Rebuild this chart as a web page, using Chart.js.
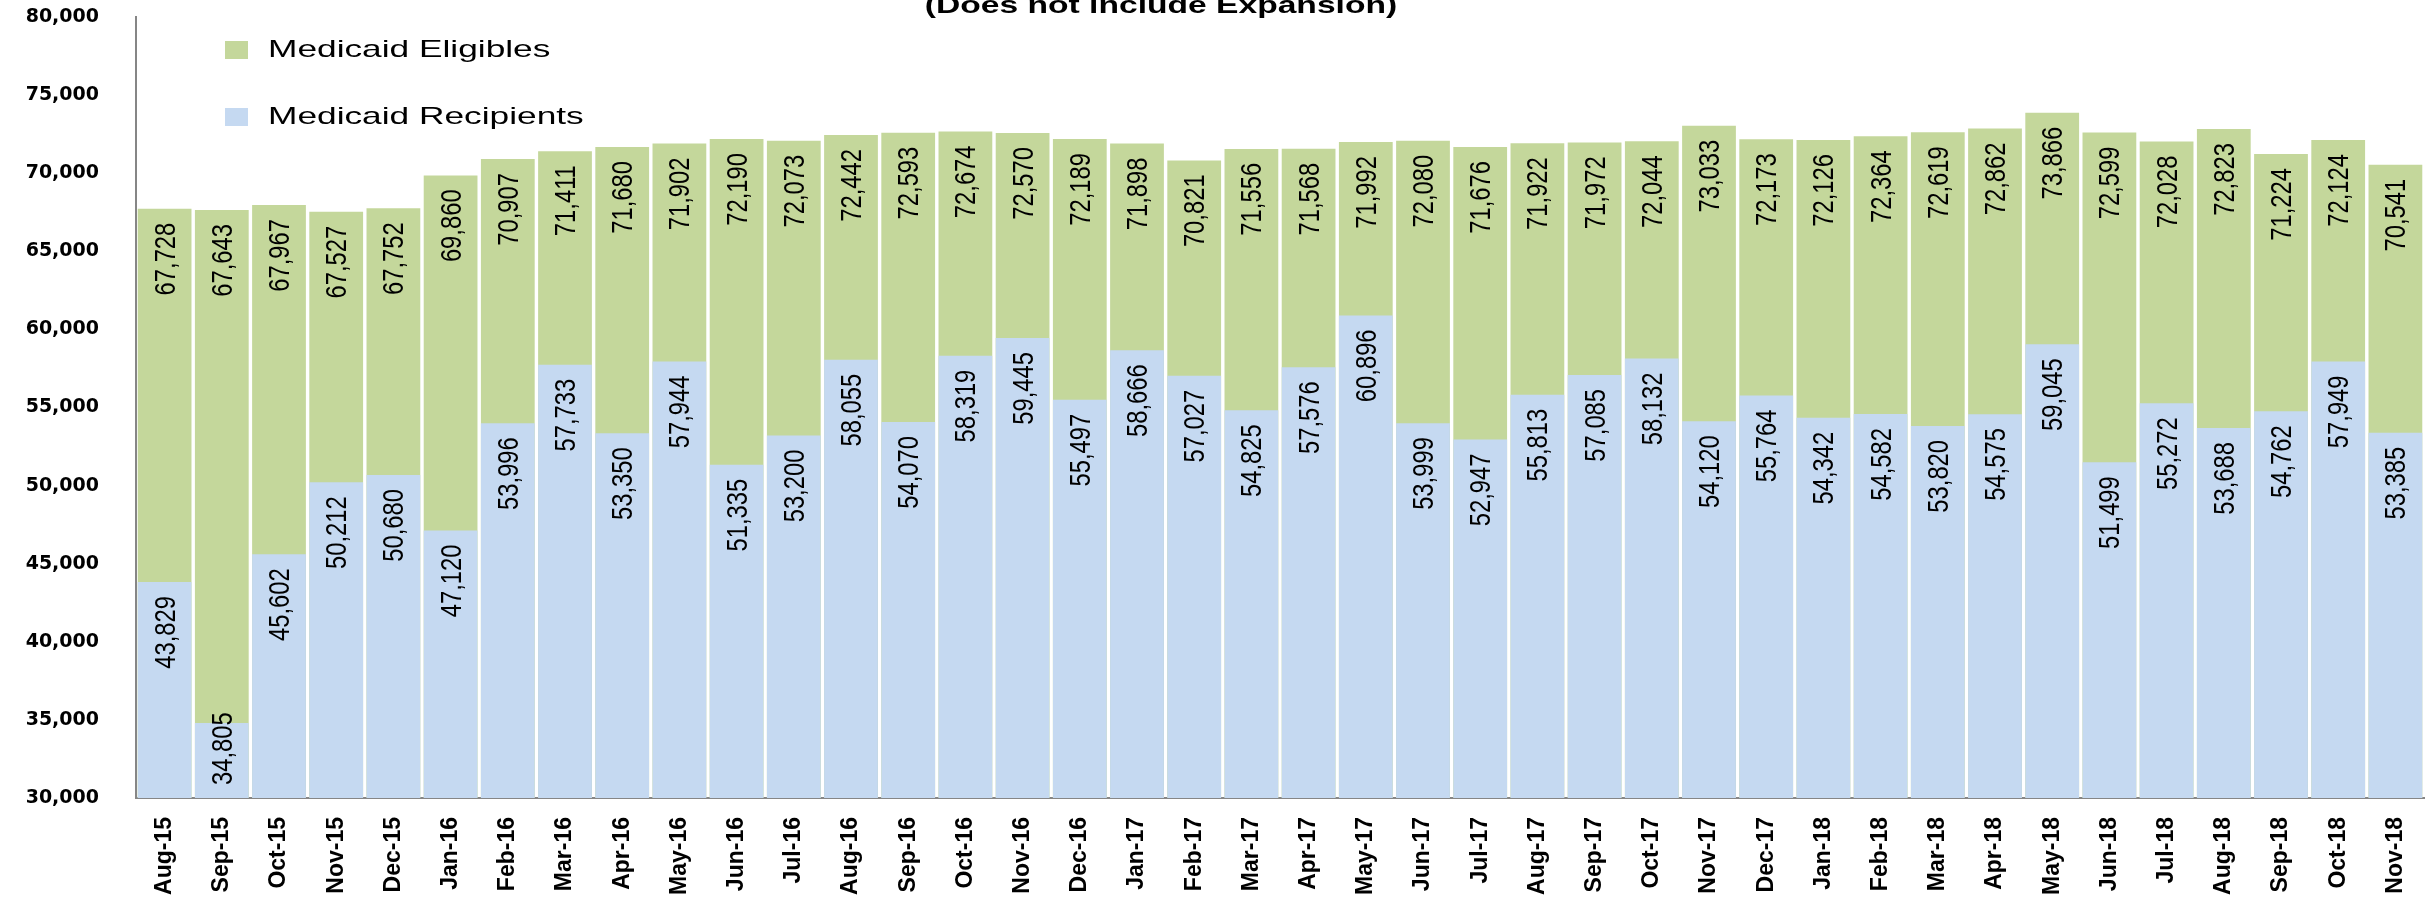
<!DOCTYPE html>
<html>
<head>
<meta charset="utf-8">
<script src="https://cdn.jsdelivr.net/npm/chart.js@4"></script>
<style>
  body { margin: 0; background: #fff; }
  #wrap { width: 2425px; height: 904px; }
</style>
</head>
<body>
<div id="wrap"><canvas id="bar-chart"></canvas></div>
<script>
const months = ["Aug-15","Sep-15","Oct-15","Nov-15","Dec-15","Jan-16","Feb-16","Mar-16","Apr-16","May-16",
  "Jun-16","Jul-16","Aug-16","Sep-16","Oct-16","Nov-16","Dec-16","Jan-17","Feb-17","Mar-17",
  "Apr-17","May-17","Jun-17","Jul-17","Aug-17","Sep-17","Oct-17","Nov-17","Dec-17","Jan-18",
  "Feb-18","Mar-18","Apr-18","May-18","Jun-18","Jul-18","Aug-18","Sep-18","Oct-18","Nov-18"];

const eligibles = [67728,67643,67967,67527,67752,69860,70907,71411,71680,71902,
  72190,72073,72442,72593,72674,72570,72189,71898,70821,71556,
  71568,71992,72080,71676,71922,71972,72044,73033,72173,72126,
  72364,72619,72862,73866,72599,72028,72823,71224,72124,70541];

const recipients = [43829,34805,45602,50212,50680,47120,53996,57733,53350,57944,
  51335,53200,58055,54070,58319,59445,55497,58666,57027,54825,
  57576,60896,53999,52947,55813,57085,58132,54120,55764,54342,
  54582,53820,54575,59045,51499,55272,53688,54762,57949,53385];

const yMin = 30000, yMax = 80000, yStep = 5000;
const titleText = "(Does not include Expansion)";

const green = "#c4d79b";
const blue = "#c5d9f1";
const sans = '"Liberation Sans", Arial, sans-serif';

// value labels, rotated, near the top of each bar (squeezed like the original)
const barLabels = {
  id: 'barLabels',
  afterDatasetsDraw(chart) {
    const ctx = chart.ctx;
    const sx = 0.82;
    const floor = chart.chartArea.bottom;
    ctx.save();
    ctx.font = '29px ' + sans;
    ctx.fillStyle = '#000';
    ctx.textAlign = 'left';
    ctx.textBaseline = 'middle';
    chart.data.datasets.forEach((ds, i) => {
      chart.getDatasetMeta(i).data.forEach((bar, j) => {
        const text = ds.data[j].toLocaleString('en-US');
        const w = ctx.measureText(text).width * sx;
        const base = Math.min(bar.base, floor);
        let start = bar.y + 14;
        if (start + w > base - 13) start = base - 13 - w;
        ctx.save();
        ctx.translate(bar.x + 2, start + w);
        ctx.rotate(-Math.PI / 2);
        ctx.scale(sx, 1);
        ctx.fillText(text, 0, 0);
        ctx.restore();
      });
    });
    ctx.restore();
  }
};

// title (cut at the top) and legend inside the plot, widened like the original
const extras = {
  id: 'extras',
  afterDraw(chart) {
    const ctx = chart.ctx;
    ctx.save();
    ctx.fillStyle = '#000';
    ctx.font = 'bold 24px ' + sans;
    ctx.textAlign = 'center';
    ctx.textBaseline = 'alphabetic';
    ctx.save();
    ctx.translate(1161, 13);
    ctx.scale(1.4, 1);
    ctx.fillText(titleText, 0, 0);
    ctx.restore();

    const items = [["Medicaid Eligibles", green, 50], ["Medicaid Recipients", blue, 117]];
    ctx.font = '24px ' + sans;
    ctx.textAlign = 'left';
    ctx.textBaseline = 'middle';
    items.forEach(([text, color, y]) => {
      ctx.fillStyle = color;
      ctx.fillRect(225, y - 9, 23, 18);
      ctx.fillStyle = '#000';
      ctx.save();
      ctx.translate(268, y);
      ctx.scale(1.47, 1);
      ctx.fillText(text, 0, 0);
      ctx.restore();
    });
    ctx.restore();
  }
};

new Chart(document.getElementById("bar-chart"), {
  type: 'bar',
  data: {
    labels: months,
    datasets: [
      {
        label: "Medicaid Eligibles",
        data: eligibles,
        backgroundColor: green,
        grouped: false,
        order: 2,
        barPercentage: 0.94,
        categoryPercentage: 1
      },
      {
        label: "Medicaid Recipients",
        data: recipients,
        backgroundColor: blue,
        grouped: false,
        order: 1,
        barPercentage: 0.94,
        categoryPercentage: 1
      }
    ]
  },
  options: {
    responsive: true,
    maintainAspectRatio: false,
    animation: false,
    layout: { padding: { left: 18, right: 1, top: 17, bottom: 0 } },
    plugins: {
      legend: { display: false },
      title: { display: false },
      tooltip: { enabled: false }
    },
    scales: {
      x: {
        grid: { display: false, drawTicks: false },
        border: { display: true, color: '#868686', width: 2 },
        ticks: {
          color: '#000',
          autoSkip: false,
          maxRotation: 90,
          minRotation: 90,
          padding: 19,
          font: { family: sans, size: 23, weight: 'bold' }
        },
        afterFit: s => { s.height = 106; s.paddingLeft = 0; s.paddingRight = 0; }
      },
      y: {
        min: yMin,
        max: yMax,
        grid: { display: false, drawTicks: false },
        border: { display: true, color: '#868686', width: 2 },
        ticks: {
          stepSize: yStep,
          color: '#000',
          padding: 37,
          font: { family: '"DejaVu Sans", sans-serif', size: 19, weight: 'bold' },
          callback: v => v.toLocaleString('en-US')
        },
        afterFit: s => { s.width = 118; s.paddingTop = 0; s.paddingBottom = 0; }
      }
    }
  },
  plugins: [barLabels, extras]
});
</script>
</body>
</html>
